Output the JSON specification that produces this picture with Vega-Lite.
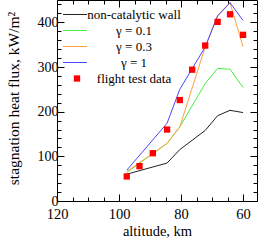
{
  "$schema": "https://vega.github.io/schema/vega-lite/v6.json",
  "autosize": "none",
  "width": 200,
  "height": 201,
  "padding": {"left": 57, "top": 0, "right": 1, "bottom": 42},
  "config": {
    "font": "Liberation Serif",
    "view": {"stroke": null},
    "axis": {"grid": false, "domainColor": "#000", "tickColor": "#000", "labelColor": "#000", "titleColor": "#000", "labelFont": "Liberation Serif", "titleFont": "Liberation Serif", "titleFontWeight": "normal", "domainWidth": 1, "tickWidth": 1}
  },
  "data": {
    "values": [
      {"alt": 97.5, "q": 60, "series": "non-catalytic wall"},
      {"alt": 84.5, "q": 85, "series": "non-catalytic wall"},
      {"alt": 80.4, "q": 115, "series": "non-catalytic wall"},
      {"alt": 72.2, "q": 158, "series": "non-catalytic wall"},
      {"alt": 68.2, "q": 191, "series": "non-catalytic wall"},
      {"alt": 64.2, "q": 203, "series": "non-catalytic wall"},
      {"alt": 60, "q": 198, "series": "non-catalytic wall"},
      {"alt": 97.5, "q": 64, "series": "γ = 0.1"},
      {"alt": 84.5, "q": 129, "series": "γ = 0.1"},
      {"alt": 80.4, "q": 166, "series": "γ = 0.1"},
      {"alt": 72.2, "q": 263, "series": "γ = 0.1"},
      {"alt": 68.2, "q": 297, "series": "γ = 0.1"},
      {"alt": 64.2, "q": 295, "series": "γ = 0.1"},
      {"alt": 60, "q": 254, "series": "γ = 0.1"},
      {"alt": 97.5, "q": 66, "series": "γ = 0.3"},
      {"alt": 84.5, "q": 129, "series": "γ = 0.3"},
      {"alt": 80.4, "q": 166, "series": "γ = 0.3"},
      {"alt": 72.2, "q": 345, "series": "γ = 0.3"},
      {"alt": 68.2, "q": 416, "series": "γ = 0.3"},
      {"alt": 64.2, "q": 444, "series": "γ = 0.3"},
      {"alt": 60, "q": 345, "series": "γ = 0.3"},
      {"alt": 97.5, "q": 69, "series": "γ = 1"},
      {"alt": 84.5, "q": 174, "series": "γ = 1"},
      {"alt": 80.4, "q": 250, "series": "γ = 1"},
      {"alt": 72.2, "q": 345, "series": "γ = 1"},
      {"alt": 68.2, "q": 414, "series": "γ = 1"},
      {"alt": 64.2, "q": 444, "series": "γ = 1"},
      {"alt": 60, "q": 404, "series": "γ = 1"},
      {"alt": 97.5, "q": 55, "series": "flight test data"},
      {"alt": 93.4, "q": 78, "series": "flight test data"},
      {"alt": 89.1, "q": 107, "series": "flight test data"},
      {"alt": 84.5, "q": 160, "series": "flight test data"},
      {"alt": 80.4, "q": 226, "series": "flight test data"},
      {"alt": 76.4, "q": 294, "series": "flight test data"},
      {"alt": 72.2, "q": 348, "series": "flight test data"},
      {"alt": 68.2, "q": 401, "series": "flight test data"},
      {"alt": 64.2, "q": 418, "series": "flight test data"},
      {"alt": 60, "q": 372, "series": "flight test data"}
    ]
  },
  "layer": [
    {
      "transform": [{"filter": "datum.series !== 'flight test data'"}],
      "mark": {"type": "line", "strokeWidth": 1, "clip": true},
      "encoding": {
        "x": {"field": "alt", "type": "quantitative",
          "scale": {"domain": [120, 55.5], "nice": false, "zero": false},
          "axis": {"orient": "bottom", "values": [120,115,110,105,100,95,90,85,80,75,70,65,60],
            "tickSize": {"condition": {"test": "datum.value % 20 === 0", "value": -7}, "value": -4},
            "labelExpr": "datum.value % 20 === 0 ? datum.label : ''",
            "labelFontSize": 14.5, "labelPadding": 13, "labelFlush": false,
            "title": "altitude, km", "titleFontSize": 14.5, "titleY": 34.5, "titleBaseline": "alphabetic"}},
        "y": {"field": "q", "type": "quantitative",
          "scale": {"domain": [0, 450], "nice": false},
          "axis": {"orient": "left", "values": [0,20,40,60,80,100,120,140,160,180,200,220,240,260,280,300,320,340,360,380,400,420,440],
            "tickSize": {"condition": {"test": "datum.value % 100 === 0", "value": -7}, "value": -4},
            "labelExpr": "datum.value % 100 === 0 ? datum.label : ''",
            "labelFontSize": 14, "labelPadding": 6, "labelFlush": false,
            "title": "stagnation heat flux, kW/m²", "titleFontSize": 15.5, "titleX": -44, "titleY": 98, "titleBaseline": "middle", "titleAngle": 270}},
        "color": {"field": "series", "type": "nominal",
          "scale": {"domain": ["non-catalytic wall", "γ = 0.1", "γ = 0.3", "γ = 1", "flight test data"],
                    "range": ["#222222", "#44ee44", "#ffa040", "#4848ff", "#ff0000"]},
          "legend": {"orient": "none", "legendX": 6, "legendY": 8, "title": null, "padding": 0,
            "labelFont": "Liberation Serif", "labelFontSize": 13, "labelColor": "#000",
            "rowPadding": 2,
            "symbolType": "stroke", "symbolSize": 576, "symbolStrokeWidth": 1,
            "encode": {
              "symbols": {"update": {
                "shape": {"signal": "datum.value === 'flight test data' ? 'square' : 'stroke'"},
                "size": {"signal": "datum.value === 'flight test data' ? 40 : 576"},
                "x": {"signal": "datum.value === 'flight test data' ? 14 : 12"},
                "fill": {"signal": "datum.value === 'flight test data' ? '#ff0000' : 'transparent'"},
                "strokeWidth": {"signal": "datum.value === 'flight test data' ? 0 : 1"}
              }},
              "labels": {"update": {
                "align": {"value": "center"},
                "x": {"value": 71}
              }}
            }
          }},
        "detail": {"field": "series"}
      }
    },
    {
      "transform": [{"filter": "datum.series === 'flight test data'"}],
      "mark": {"type": "point", "shape": "square", "filled": true, "size": 40, "opacity": 1},
      "encoding": {
        "x": {"field": "alt", "type": "quantitative",
          "axis": {"orient": "top", "values": [120,115,110,105,100,95,90,85,80,75,70,65,60],
            "tickSize": {"condition": {"test": "datum.value % 20 === 0", "value": -7}, "value": -4},
            "labels": false, "title": null}},
        "y": {"field": "q", "type": "quantitative",
          "axis": {"orient": "right", "values": [0,20,40,60,80,100,120,140,160,180,200,220,240,260,280,300,320,340,360,380,400,420,440],
            "tickSize": {"condition": {"test": "datum.value % 100 === 0", "value": -7}, "value": -4},
            "labels": false, "title": null}},
        "color": {"field": "series", "type": "nominal"}
      }
    }
  ],
  "resolve": {"axis": {"x": "independent", "y": "independent"}}
}
